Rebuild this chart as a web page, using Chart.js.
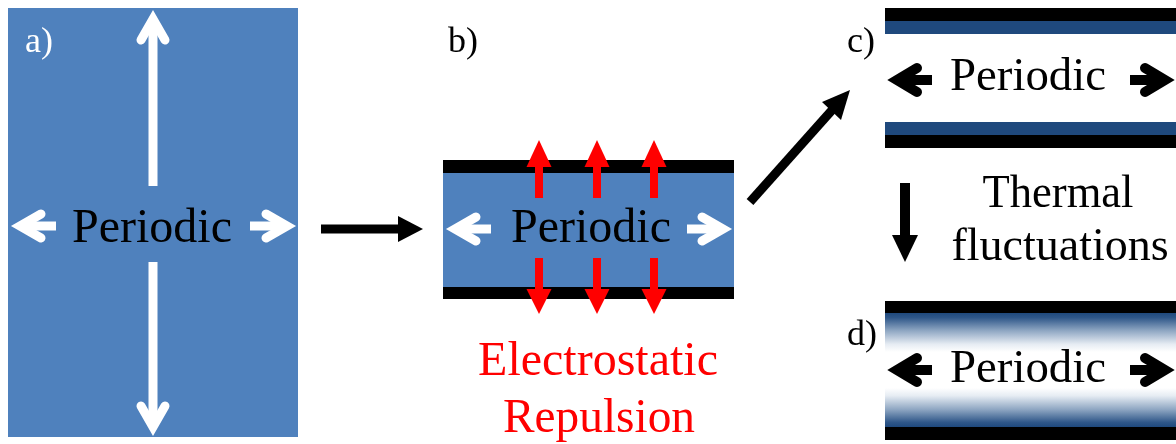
<!DOCTYPE html>
<html><head><meta charset="utf-8">
<script src="https://cdn.jsdelivr.net/npm/chart.js@4.4.1/dist/chart.umd.min.js"></script>
<style>html,body{margin:0;padding:0;background:#fff;}canvas{display:block;}</style>
</head><body>
<canvas id="c" width="1176" height="444"></canvas>
<script>
const BLUE = '#4F81BD', NAVY = '#1F497D', RED = '#FF0000', BLACK = '#000000', WHITE = '#FFFFFF';
const SERIF_FAMILY = '"Liberation Serif"';

// Filled rectangles: [x0, y0, x1, y1, colour]
const boxes = [
  [8, 8, 298, 437, BLUE],
  [443, 170, 734, 290, BLUE],
  [443, 160, 734, 173, BLACK],
  [443, 287, 734, 299, BLACK],
  [885, 8, 1176, 21, BLACK],
  [885, 21, 1176, 34, NAVY],
  [885, 122, 1176, 135, NAVY],
  [885, 135, 1176, 148, BLACK],
  [885, 301, 1176, 313, BLACK],
  [885, 427, 1176, 440, BLACK]
];
// Fading bands (panel d): [x0, y0, x1, y1, dark edge]
const fades = [
  [885, 313, 1176, 352, 'top'],
  [885, 388, 1176, 427, 'bottom']
];
// Arrow shafts: [x0, y0, x1, y1, width, colour]
const shafts = [
  [153, 186, 153, 22, 9, WHITE],
  [153, 262, 153, 424, 9, WHITE],
  [24, 226, 56, 226, 9, WHITE],
  [250, 226, 283, 226, 9, WHITE],
  [459, 229, 491, 229, 9, WHITE],
  [687, 229, 719, 229, 9, WHITE],
  [321, 229, 400, 229, 9, BLACK],
  [750, 202, 833, 109, 9, BLACK],
  [905, 183, 905, 237, 10, BLACK],
  [900, 80, 932, 80, 10, BLACK],
  [1130, 80, 1162, 80, 10, BLACK],
  [900, 370, 932, 370, 10, BLACK],
  [1130, 370, 1162, 370, 10, BLACK]
];
// Open (chevron) arrow heads: [points, width, colour]
const openHeads = [
  [[[141, 40], [153, 19], [165, 40]], 9, WHITE],
  [[[141, 406], [153, 427], [165, 406]], 9, WHITE],
  [[[41, 214], [20, 226], [41, 238]], 9, WHITE],
  [[[266, 214], [287, 226], [266, 238]], 9, WHITE],
  [[[476, 217], [455, 229], [476, 241]], 9, WHITE],
  [[[702, 217], [723, 229], [702, 241]], 9, WHITE],
  [[[917, 68], [897, 80], [917, 92]], 10, BLACK],
  [[[1145, 68], [1165, 80], [1145, 92]], 10, BLACK],
  [[[917, 358], [897, 370], [917, 382]], 10, BLACK],
  [[[1145, 358], [1165, 370], [1145, 382]], 10, BLACK]
];
// Solid (triangle) arrow heads: [points, colour]
const solidHeads = [
  [[[398, 216], [423, 229], [398, 242]], BLACK],
  [[[841, 120], [850, 90], [822, 102]], BLACK],
  [[[892, 235], [905, 262], [918, 235]], BLACK]
];
// Red repulsion arrows (panel b)
const redArrowX = [539, 597, 654];
const redUp = { shaftFrom: 198, shaftTo: 165, base: 167, tip: 140 };
const redDown = { shaftFrom: 258, shaftTo: 291, base: 289, tip: 314 };

// Texts: [text, x, baseline y, size, colour, anchor, target width]
const labels = [
  ['a)', 25, 52, 36, WHITE, 'left', 28],
  ['b)', 448, 52, 36, BLACK, 'left', 32],
  ['c)', 847, 52, 36, BLACK, 'left', 28],
  ['d)', 847, 345, 36, BLACK, 'left', 30],
  ['Periodic', 152, 242, 48, BLACK, 'center', 160],
  ['Periodic', 591, 242, 48, BLACK, 'center', 160],
  ['Periodic', 1028, 90, 47, BLACK, 'center', 156],
  ['Periodic', 1028, 382, 47, BLACK, 'center', 156],
  ['Electrostatic', 598, 375, 48, RED, 'center', 244],
  ['Repulsion', 599, 432, 48, RED, 'center', 192],
  ['Thermal', 1058, 207, 46, BLACK, 'center', 151],
  ['fluctuations', 1060, 260, 46, BLACK, 'center', 221]
];

// ---- build datasets ----
const pts = arr => arr.map(([x, y]) => ({ x, y }));
const rectPts = (x0, y0, x1, y1) => pts([[x0, y0], [x1, y0], [x1, y1], [x0, y1], [x0, y0]]);
const base = { pointRadius: 0, pointHoverRadius: 0, tension: 0, clip: false, spanGaps: true };
function polyDs(points, bg) {
  return Object.assign({}, base, { data: points, fill: 'shape', backgroundColor: bg, borderColor: 'rgba(0,0,0,0)', borderWidth: 1 });
}
function strokeDs(points, w, col, cap, join) {
  return Object.assign({}, base, { data: points, fill: false, borderColor: col, borderWidth: w, borderCapStyle: cap, borderJoinStyle: join });
}
const ds = [];
boxes.forEach(([x0, y0, x1, y1, c]) => ds.push(polyDs(rectPts(x0, y0, x1, y1), c)));
fades.forEach(([x0, y0, x1, y1, dark]) => {
  ds.push(polyDs(rectPts(x0, y0, x1, y1), (ctx) => {
    const ch = ctx.chart;
    if (!ch.chartArea) return NAVY;
    const ya = ch.scales.y.getPixelForValue(y0), yb = ch.scales.y.getPixelForValue(y1);
    const g = dark === 'top' ? ch.ctx.createLinearGradient(0, ya, 0, yb) : ch.ctx.createLinearGradient(0, yb, 0, ya);
    g.addColorStop(0, NAVY);
    g.addColorStop(0.12, '#2f5789');
    g.addColorStop(0.45, '#8ea6c2');
    g.addColorStop(0.8, '#e6ecf3');
    g.addColorStop(1, '#ffffff');
    return g;
  }));
});
redArrowX.forEach(x => {
  ds.push(strokeDs(pts([[x, redUp.shaftFrom], [x, redUp.shaftTo]]), 8, RED, 'butt', 'miter'));
  ds.push(polyDs(pts([[x - 12.5, redUp.base], [x, redUp.tip], [x + 12.5, redUp.base], [x - 12.5, redUp.base]]), RED));
  ds.push(strokeDs(pts([[x, redDown.shaftFrom], [x, redDown.shaftTo]]), 8, RED, 'butt', 'miter'));
  ds.push(polyDs(pts([[x - 12.5, redDown.base], [x, redDown.tip], [x + 12.5, redDown.base], [x - 12.5, redDown.base]]), RED));
});
shafts.forEach(([x0, y0, x1, y1, w, c]) => ds.push(strokeDs(pts([[x0, y0], [x1, y1]]), w, c, 'butt', 'miter')));
openHeads.forEach(([p, w, c]) => ds.push(strokeDs(pts(p), w, c, 'round', 'miter')));
solidHeads.forEach(([p, c]) => ds.push(polyDs(pts(p.concat([p[0]])), c)));
const N = ds.length;
ds.forEach((d, i) => { d.order = N - i; });

const textPlugin = {
  id: 'diagramText',
  afterDatasetsDraw(chart) {
    const { ctx, scales: { x, y } } = chart;
    labels.forEach(([t, lx, ly, size, col, anchor, targetW]) => {
      ctx.save();
      ctx.font = size + 'px ' + SERIF_FAMILY;
      ctx.fillStyle = col;
      ctx.textAlign = 'left';
      ctx.textBaseline = 'alphabetic';
      const w = ctx.measureText(t).width;
      const sx = w > targetW ? targetW / w : 1;
      const drawW = w * sx;
      let px = x.getPixelForValue(lx);
      if (anchor === 'center') px -= drawW / 2;
      ctx.translate(px, y.getPixelForValue(ly));
      ctx.scale(sx, 1);
      ctx.fillText(t, 0, 0);
      ctx.restore();
    });
  }
};

new Chart(document.getElementById('c'), {
  type: 'line',
  data: { datasets: ds },
  options: {
    responsive: false,
    animation: false,
    devicePixelRatio: 1,
    events: [],
    layout: { padding: 0 },
    plugins: { legend: { display: false }, tooltip: { enabled: false } },
    scales: {
      x: { type: 'linear', min: 0, max: 1176, display: false },
      y: { type: 'linear', min: 0, max: 444, reverse: true, display: false }
    }
  },
  plugins: [textPlugin]
});
</script>
</body></html>
